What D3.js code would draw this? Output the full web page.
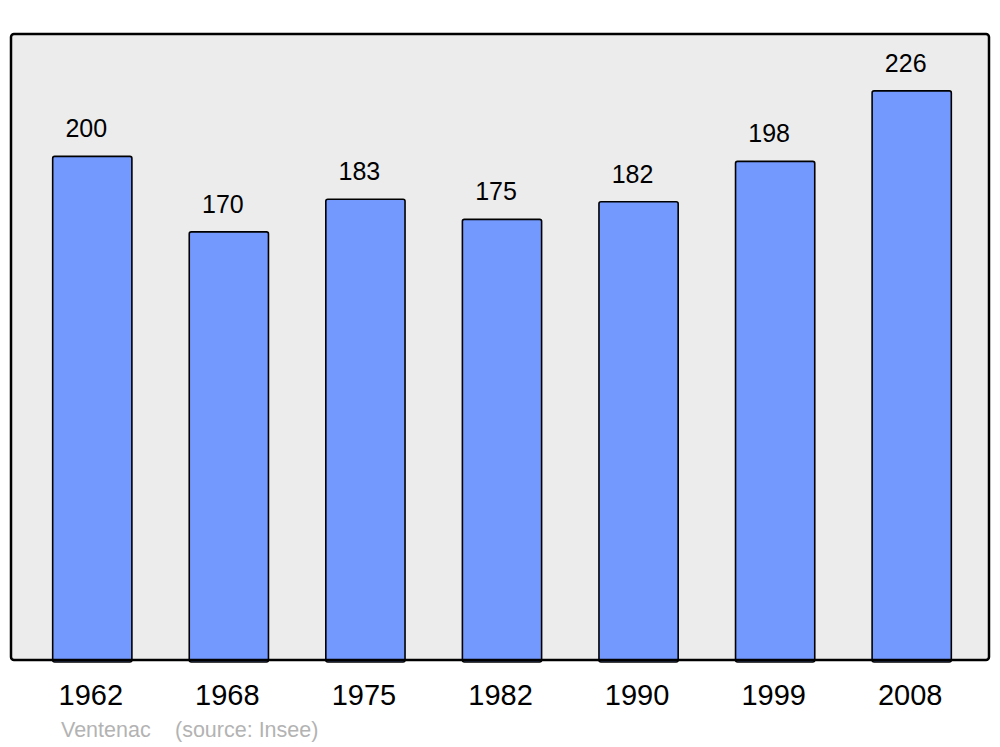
<!DOCTYPE html>
<html><head><meta charset="utf-8">
<script src="https://cdn.jsdelivr.net/npm/d3@7"></script>
<style>body{margin:0;background:#fff}svg{display:block}</style>
</head><body>
<script>
const years = ["1962","1968","1975","1982","1990","1999","2008"];
const population = [200,170,183,175,182,198,226];
const commune = "Ventenac";
const source = "(source: Insee)";

const W = 1000, H = 747;
const svg = d3.select("body").append("svg").attr("width", W).attr("height", H);
const font = "Liberation Sans, Arial, sans-serif";

const panel = {x0: 11, x1: 989, y0: 34, y1: 660};
svg.append("rect").attr("x", panel.x0).attr("y", panel.y0)
  .attr("width", panel.x1 - panel.x0).attr("height", panel.y1 - panel.y0)
  .attr("rx", 3).attr("fill", "#ececec");

const x = d3.scaleBand().domain(years).range([24, 980]).paddingInner(0.42).paddingOuter(0.21);
const y = d3.scaleLinear().domain([0, d3.max(population) * 1.1]).range([panel.y1, panel.y0]);

svg.selectAll(".bar").data(years).join("rect").attr("class", "bar")
  .attr("x", d => x(d)).attr("width", x.bandwidth())
  .attr("y", (d, i) => y(population[i])).attr("height", (d, i) => y(0) - y(population[i]) + 2)
  .attr("rx", 2).attr("fill", "#7399ff").attr("stroke", "#000").attr("stroke-width", 1.6);

svg.selectAll(".val").data(years).join("text").attr("class", "val")
  .attr("x", d => x(d) + x.bandwidth() / 2 - 6).attr("y", (d, i) => y(population[i]) - 19)
  .attr("text-anchor", "middle").attr("font-family", font).attr("font-size", 25)
  .attr("fill", "#000").text((d, i) => population[i]);

// frame on top
svg.append("rect").attr("x", panel.x0).attr("y", panel.y0)
  .attr("width", panel.x1 - panel.x0).attr("height", panel.y1 - panel.y0)
  .attr("rx", 3).attr("fill", "none").attr("stroke", "#000").attr("stroke-width", 2.5);

const xAxis = d3.axisBottom(x).tickSize(0).tickPadding(0);
const gx = svg.append("g").attr("transform", `translate(-1.5,${panel.y1})`).call(xAxis);
gx.select(".domain").remove();
gx.selectAll("text").attr("font-family", font).attr("font-size", 29).attr("fill", "#000")
  .attr("dy", null).attr("y", 45);

svg.append("text").attr("x", 61).attr("y", 737).attr("font-family", font).attr("font-size", 21.5)
  .attr("fill", "#b3b3b3").text(commune);
svg.append("text").attr("x", 175).attr("y", 737).attr("font-family", font).attr("font-size", 21.5)
  .attr("fill", "#b3b3b3").text(source);
</script>
</body></html>
